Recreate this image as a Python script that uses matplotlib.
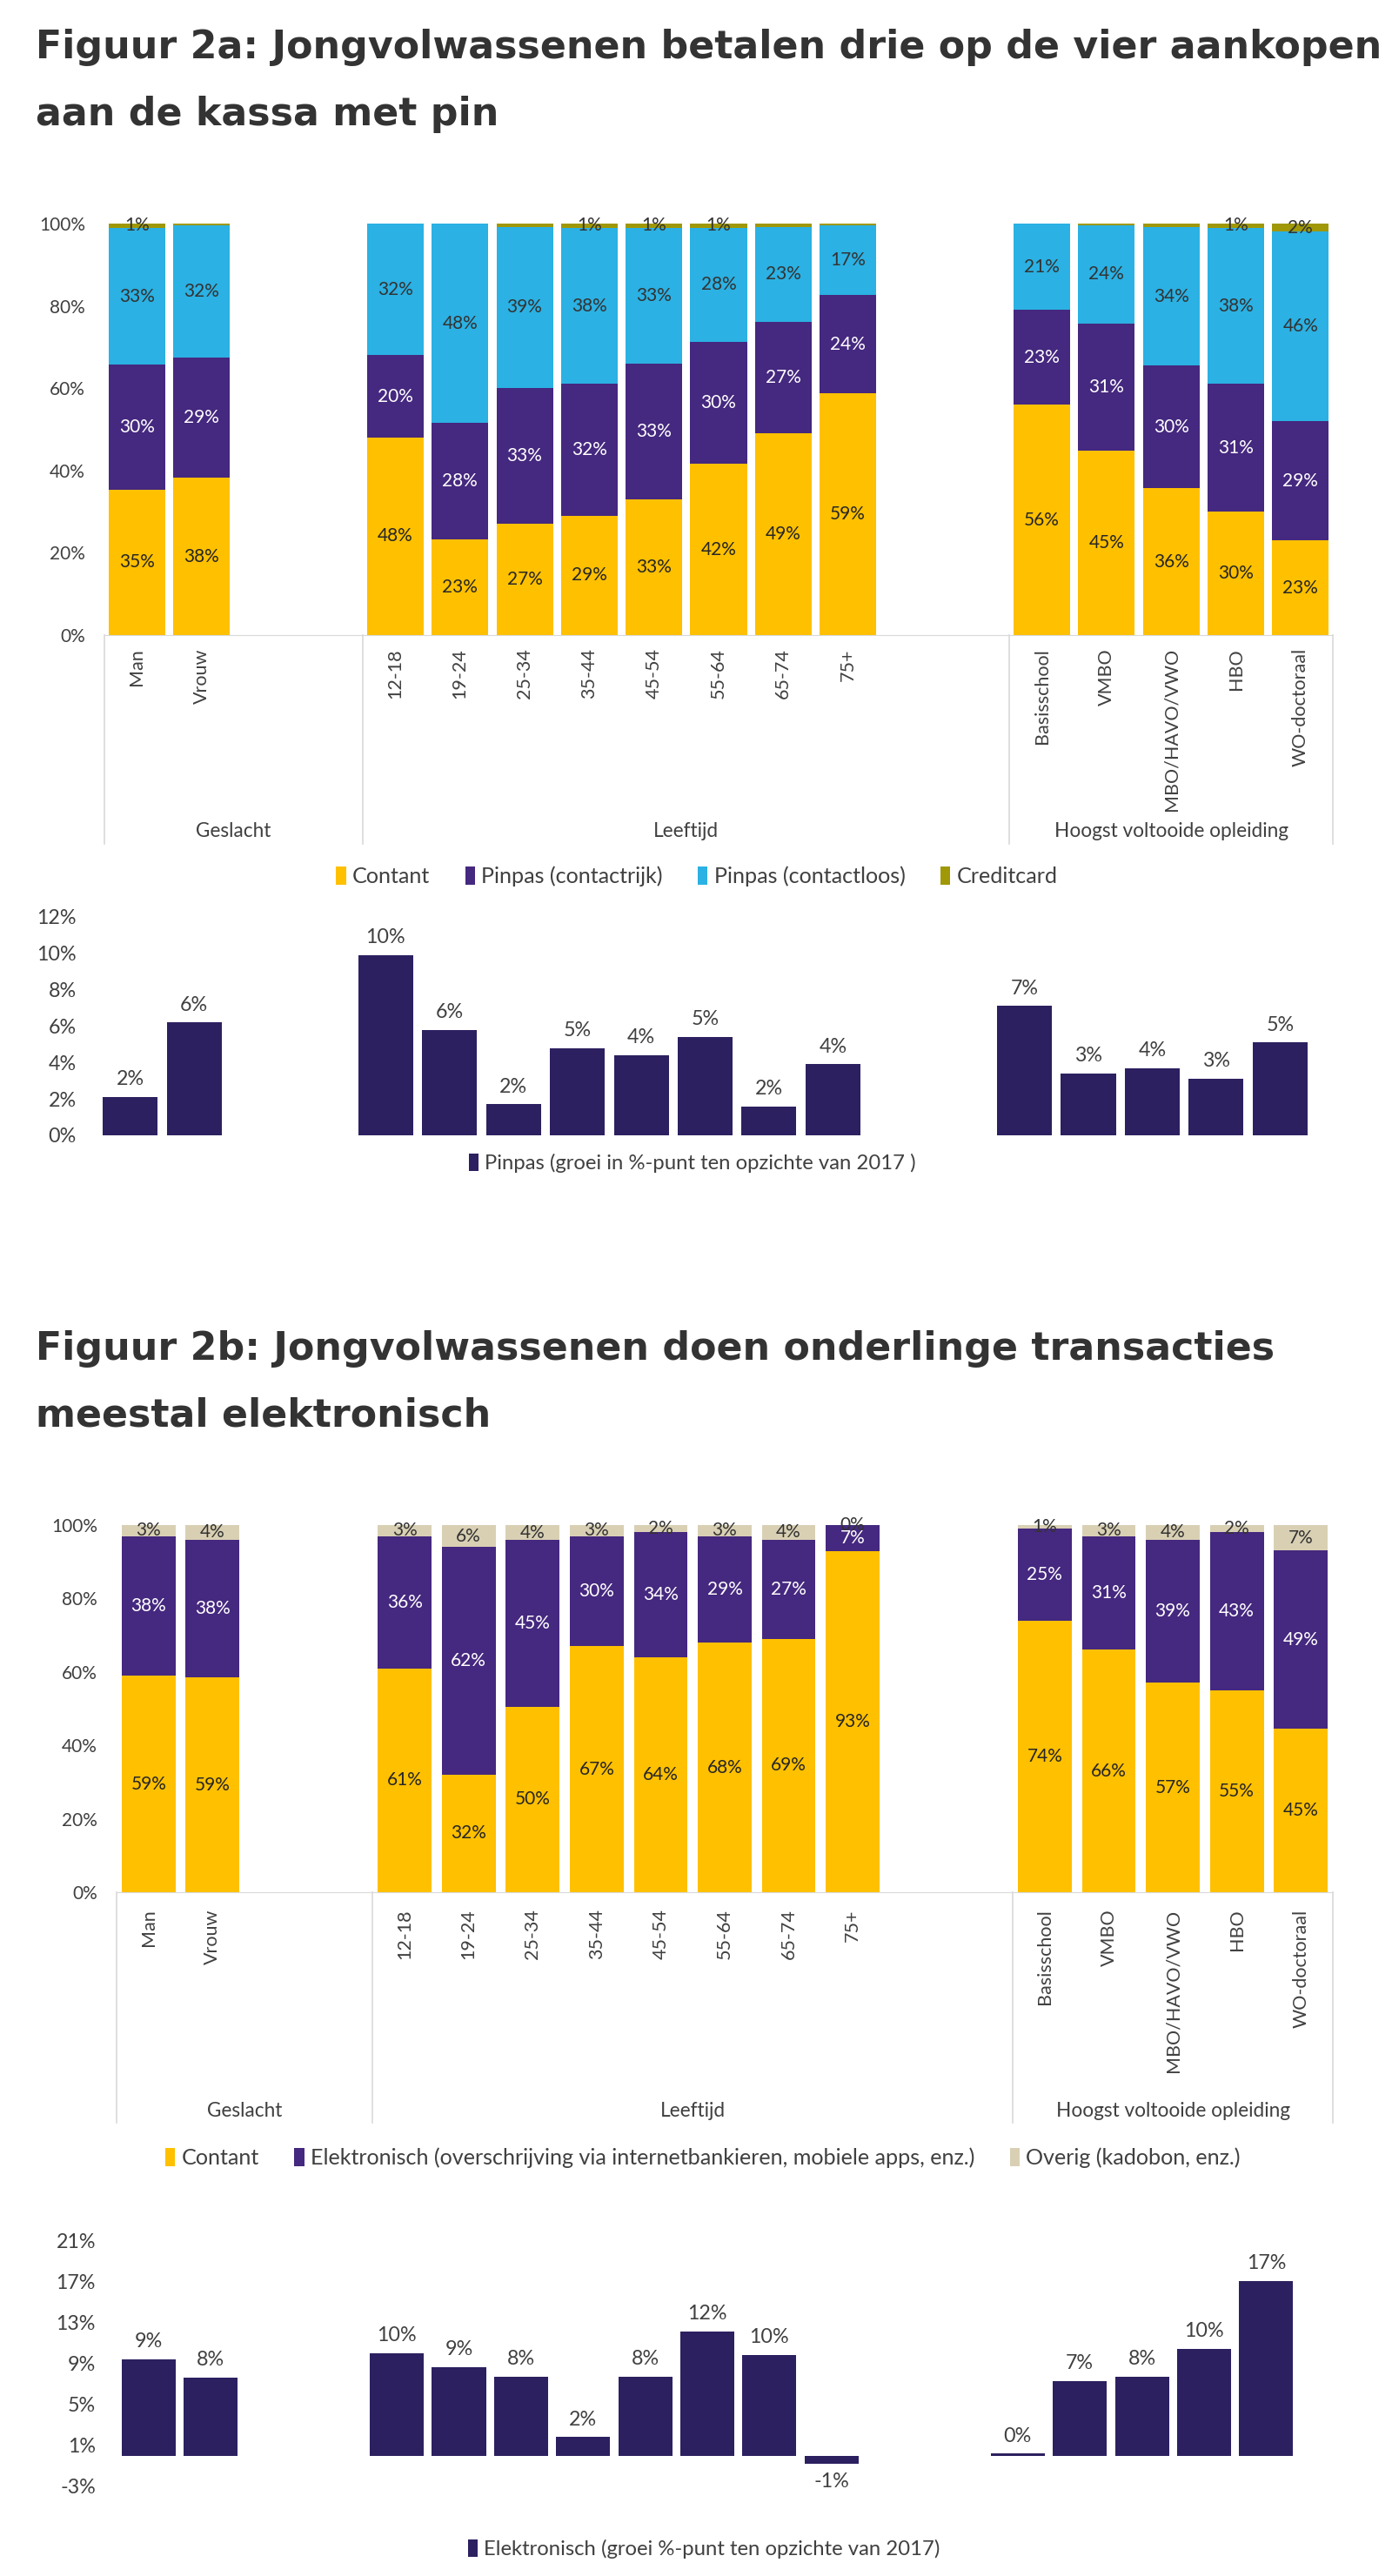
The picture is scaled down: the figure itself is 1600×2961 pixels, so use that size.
import matplotlib
matplotlib.use('Agg')
import matplotlib.pyplot as plt
import matplotlib.transforms as mtransforms
from matplotlib import font_manager
from matplotlib.patches import Patch
from matplotlib.ticker import FuncFormatter, FixedLocator
import numpy as np

# categorieen
geslacht = ['Man', 'Vrouw']
leeftijd = ['12-18', '19-24', '25-34', '35-44', '45-54', '55-64', '65-74', '75+']
opleiding = ['Basisschool', 'VMBO', 'MBO/HAVO/VWO', 'HBO', 'WO-doctoraal']
groepen = ['Geslacht', 'Leeftijd', 'Hoogst voltooide opleiding']

# Figuur 2a: betaalmiddel aan de kassa (%)
contant_a = [35, 38, 48, 23, 27, 29, 33, 42, 49, 59, 56, 45, 36, 30, 23]
contactrijk_a = [30, 29, 20, 28, 33, 32, 33, 30, 27, 24, 23, 31, 30, 31, 29]
contactloos_a = [33, 32, 32, 48, 39, 38, 33, 28, 23, 17, 21, 24, 34, 38, 46]
creditcard_a = [1, 0.4, 0, 0, 0.8, 1, 1, 1, 0.8, 0.4, 0, 0.4, 0.8, 1, 2]
groei_pinpas = [2.1, 6.2, 9.9, 5.8, 1.7, 4.8, 4.4, 5.4, 1.6, 3.9, 7.1, 3.4, 3.7, 3.1, 5.1]

# Figuur 2b: onderlinge transacties (%)
contant_b = [59, 59, 61, 32, 50, 67, 64, 68, 69, 93, 74, 66, 57, 55, 45]
elektronisch_b = [38, 38, 36, 62, 45, 30, 34, 29, 27, 7, 25, 31, 39, 43, 49]
overig_b = [3, 4, 3, 6, 4, 3, 2, 3, 4, 0, 1, 3, 4, 2, 7]
groei_elektronisch = [9.4, 7.6, 10.0, 8.6, 7.7, 1.8, 7.7, 12.1, 9.8, -0.8, 0.2, 7.3, 7.7, 10.4, 17.0]

W, H = 1600, 2961
available = {f.name for f in font_manager.fontManager.ttflist}
if 'Liberation Sans Narrow' in available:
    body_font, fs = 'Liberation Sans Narrow', 1.0
else:
    body_font, fs = 'Lato', 0.86
plt.rcParams['font.family'] = [body_font, 'DejaVu Sans']

TXT = '#404040'
GRID = '#d9d9d9'
YELLOW = '#ffc000'
PURPLE = '#45287f'
BLUE = '#2bb1e3'
OLIVE = '#a09806'
BEIGE = '#d9d0b4'
NAVY = '#2d2060'

# x-posities: groepen gescheiden door twee lege plekken
cats = geslacht + leeftijd + opleiding
sizes = [len(geslacht), len(leeftijd), len(opleiding)]
gap = 2
pos, bounds, centers = [], [-0.5], []
start = 0
for i, n in enumerate(sizes):
    pos += list(range(start, start + n))
    end = start + n + (gap if i < len(sizes) - 1 else 0)
    bounds.append(end - 0.5)
    centers.append((start - 0.5 + end - 0.5) / 2)
    start = end
pos = np.array(pos)
xlim = (-0.5, start - 0.5)


def rect(x0, x1, ytop, ybot):
    return [x0 / W, 1 - ybot / H, (x1 - x0) / W, (ybot - ytop) / H]


fig = plt.figure(figsize=(W / 100, H / 100), dpi=100)
fig.patch.set_facecolor('white')


def pct(v, p=None):
    return '%.0f%%' % v


def stacked(ax, series, colors, lcolors, min_label, width):
    totals = np.sum(np.array(series, dtype=float), axis=0)
    bottom = np.zeros(len(pos))
    for vals, col, lc, ml in zip(series, colors, lcolors, min_label):
        vals = np.array(vals, dtype=float)
        h = vals / totals * 100
        ax.bar(pos, h, width, bottom=bottom, color=col, linewidth=0)
        for x, b, hh, v in zip(pos, bottom, h, vals):
            if v >= ml:
                ax.text(x, b + hh / 2, pct(round(v)), ha='center', va='center',
                        color=lc, fontsize=17.5 * fs, clip_on=False)
        bottom += h
    ax.set_xlim(*xlim)
    ax.set_ylim(0, 100)
    ax.yaxis.set_major_locator(FixedLocator(np.arange(0, 101, 20)))
    ax.yaxis.set_major_formatter(FuncFormatter(pct))
    ax.tick_params(axis='y', length=0, pad=16, labelsize=17.5 * fs, labelcolor=TXT)
    for s in ['top', 'right', 'left']:
        ax.spines[s].set_visible(False)
    ax.spines['bottom'].set_color(GRID)


def category_area(ax, line_depth, label_depth, tick_pad):
    ax.set_xticks(pos)
    ax.set_xticklabels(cats, rotation=90, va='top', ha='center')
    ax.tick_params(axis='x', length=0, pad=tick_pad, labelsize=18 * fs, labelcolor=TXT)
    trans = mtransforms.blended_transform_factory(ax.transData, ax.transAxes)
    for b in bounds:
        ax.plot([b, b], [0, -line_depth], transform=trans, clip_on=False, color=GRID, lw=1.2)
    for c, g in zip(centers, groepen):
        ax.text(c, -label_depth, g, transform=trans, ha='center', va='center',
                fontsize=19 * fs, color=TXT)


def growth(ax, vals, ylim, ticks, width):
    vals = np.array(vals)
    ax.bar(pos, vals, width, color=NAVY, linewidth=0)
    for x, v in zip(pos, vals):
        off = 7 if v >= 0 else -7
        ax.annotate(pct(round(v)), (x, v), xytext=(0, off), textcoords='offset points',
                    ha='center', va='bottom' if v >= 0 else 'top',
                    fontsize=19.5 * fs, color=TXT)
    ax.set_xlim(*xlim)
    ax.set_ylim(*ylim)
    ax.set_xticks([])
    ax.yaxis.set_major_locator(FixedLocator(ticks))
    ax.yaxis.set_major_formatter(FuncFormatter(pct))
    ax.tick_params(axis='y', length=0, pad=18, labelsize=19.5 * fs, labelcolor=TXT)
    for s in ax.spines.values():
        s.set_visible(False)


def title(lines, y_base):
    for i, t in enumerate(lines):
        fig.text(41 / W, 1 - (y_base + 77 * i) / H, t, ha='left', va='baseline',
                 fontsize=31.9, fontweight='bold', family='DejaVu Sans', color='#333333')


def legend(items, x_center, y_center, size):
    handles = [Patch(facecolor=c, edgecolor='none', label=l) for l, c in items]
    fig.legend(handles=handles, loc='center', ncol=len(items), frameon=False,
               bbox_to_anchor=(x_center / W, 1 - y_center / H),
               handlelength=0.45, handleheight=0.9, handletextpad=0.3,
               columnspacing=1.6, fontsize=size * fs, labelcolor=TXT)


# ---- Figuur 2a ----
title(['Figuur 2a: Jongvolwassenen betalen drie op de vier aankopen', 'aan de kassa met pin'], 67)

ax1 = fig.add_axes(rect(120, 1532, 257, 730))
stacked(ax1, [contant_a, contactrijk_a, contactloos_a, creditcard_a],
        [YELLOW, PURPLE, BLUE, OLIVE], ['#262626', 'white', '#333333', '#333333'],
        [1, 1, 1, 1], 0.875)
category_area(ax1, 0.507, 0.476, 11)
legend([('Contant', YELLOW), ('Pinpas (contactrijk)', PURPLE),
        ('Pinpas (contactloos)', BLUE), ('Creditcard', OLIVE)], 801, 1007, 21)

ax2 = fig.add_axes(rect(113, 1508, 1054, 1305))
growth(ax2, groei_pinpas, (0, 12), np.arange(0, 13, 2), 0.86)
legend([('Pinpas (groei in %-punt ten opzichte van 2017 )', NAVY)], 796, 1337, 20)

# ---- Figuur 2b ----
title(['Figuur 2b: Jongvolwassenen doen onderlinge transacties', 'meestal elektronisch'], 1563)

ax3 = fig.add_axes(rect(134, 1532, 1753, 2175))
stacked(ax3, [contant_b, elektronisch_b, overig_b],
        [YELLOW, PURPLE, BEIGE], ['#262626', 'white', '#333333'],
        [1, 1, 0], 0.84)
category_area(ax3, 0.628, 0.597, 14)
legend([('Contant', YELLOW),
        ('Elektronisch (overschrijving via internetbankieren, mobiele apps, enz.)', PURPLE),
        ('Overig (kadobon, enz.)', BEIGE)], 808, 2480, 21)

ax4 = fig.add_axes(rect(135, 1491, 2575, 2858))
growth(ax4, groei_elektronisch, (-3, 21), np.arange(-3, 22, 4), 0.87)
legend([('Elektronisch (groei %-punt ten opzichte van 2017)', NAVY)], 809, 2930, 20)

fig.savefig('out.png', dpi=100, facecolor='white')
plt.close(fig)
